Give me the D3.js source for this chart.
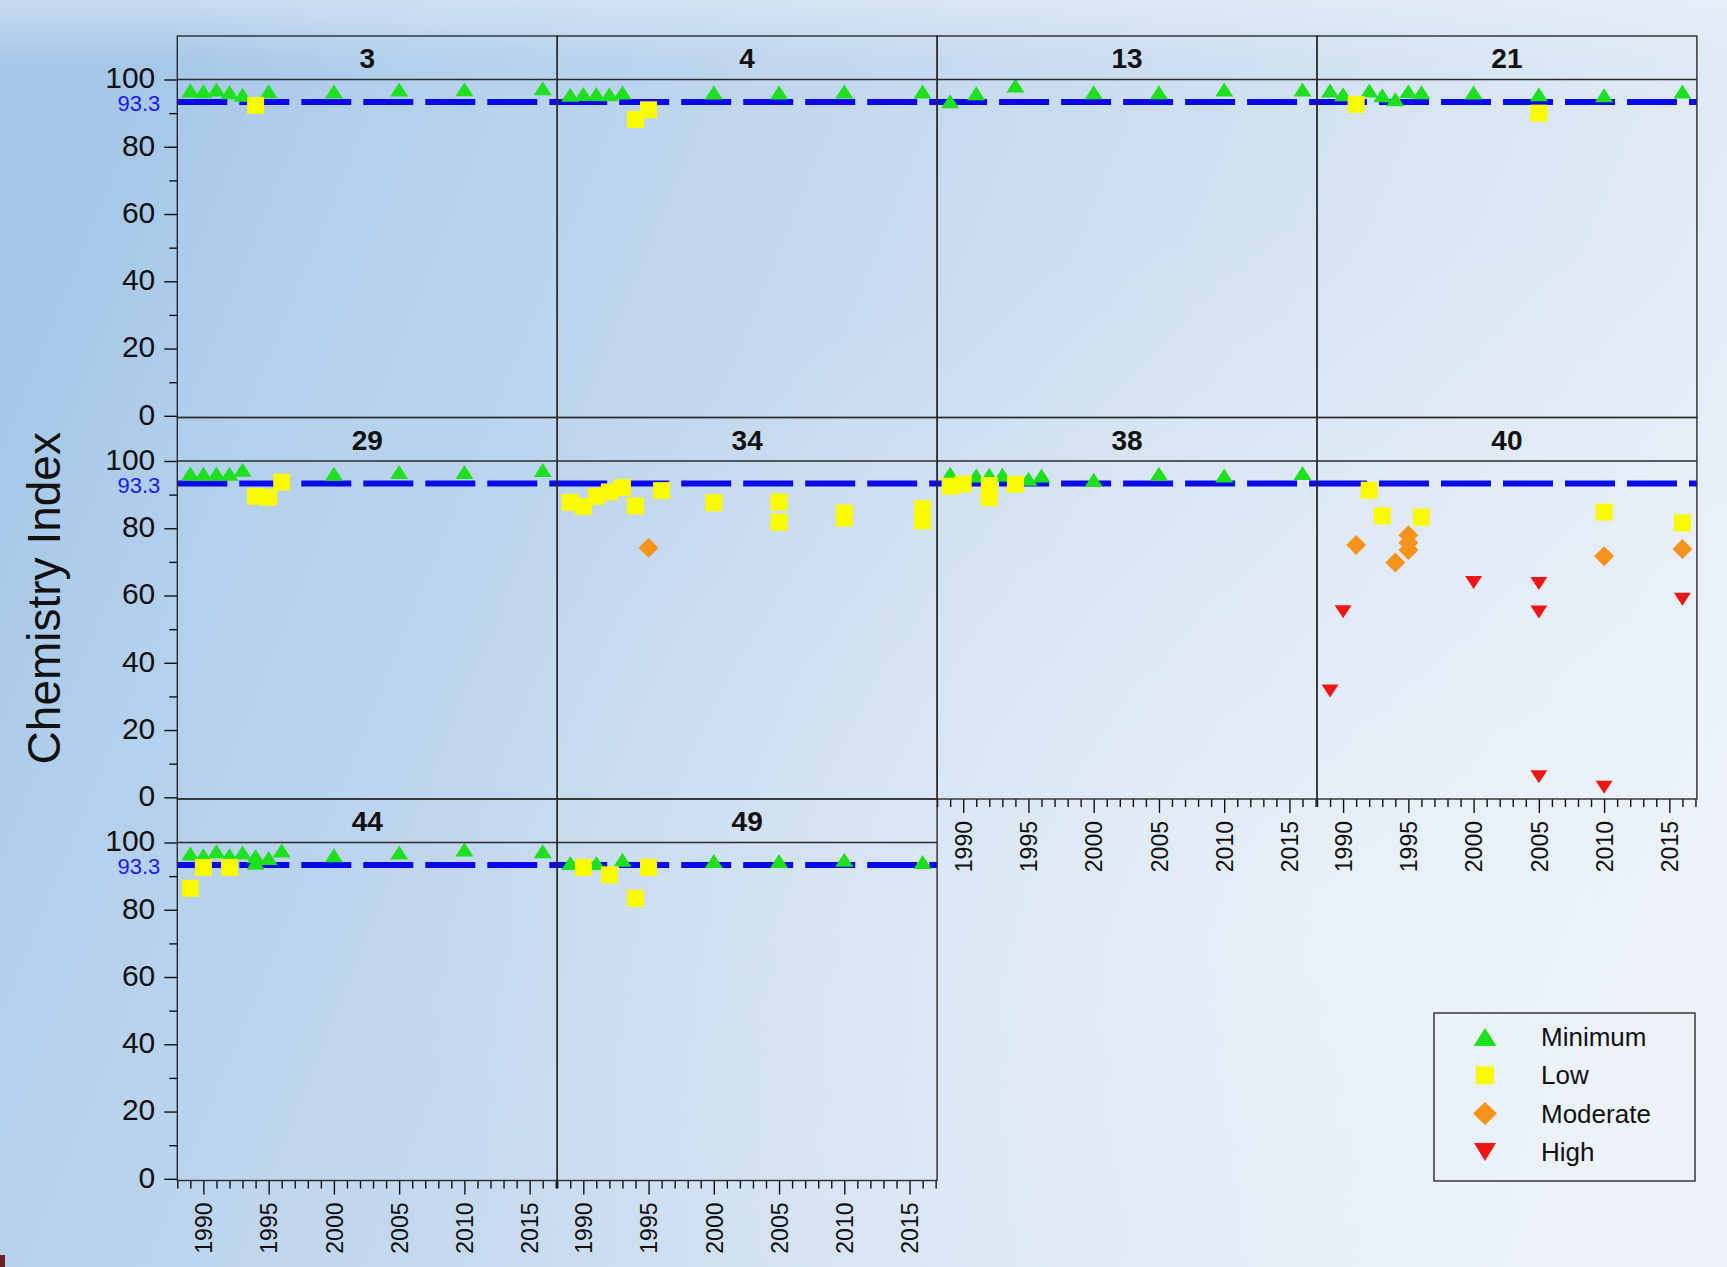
<!DOCTYPE html>
<html>
<head>
<meta charset="utf-8">
<script src="https://cdn.jsdelivr.net/npm/d3@7"></script>
<style>
  html, body { margin: 0; padding: 0; overflow: hidden; background: #ffffff; }
  svg { display: block; }
  text { font-family: Arial, "Liberation Sans", Helvetica, sans-serif; }
</style>
</head>
<body>
<svg id="chart" width="1727" height="1267"></svg>
<script>
// ---- data -------------------------------------------------------------
const panelIds = ["3", "4", "13", "21", "29", "34", "38", "40", "44", "49"];
const categories = ["Minimum", "Low", "Moderate", "High"];
const benchmark = 93.3;
const yTickValues = [0, 20, 40, 60, 80, 100];
const yMinorTicks = [10, 30, 50, 70, 90];
const xTickYears = [1990, 1995, 2000, 2005, 2010, 2015];

// [site, year, chemistry index]
const minimumPoints = [
  ["3", 1989, 96.7], ["3", 1990, 96.5], ["3", 1991, 97.0], ["3", 1992, 96.2], ["3", 1993, 95.5],
  ["3", 1995, 96.5], ["3", 2000, 96.4], ["3", 2005, 97.0], ["3", 2010, 97.1], ["3", 2016, 97.4],
  ["4", 1989, 95.5], ["4", 1990, 95.7], ["4", 1991, 95.7], ["4", 1992, 95.6], ["4", 1993, 96.1],
  ["4", 2000, 96.1], ["4", 2005, 96.1], ["4", 2010, 96.4], ["4", 2016, 96.4],
  ["13", 1989, 93.5], ["13", 1991, 95.9], ["13", 1994, 98.2], ["13", 2000, 96.2], ["13", 2005, 96.2],
  ["13", 2010, 97.0], ["13", 2016, 97.0],
  ["21", 1989, 96.7], ["21", 1990, 95.6], ["21", 1992, 96.7], ["21", 1993, 95.3], ["21", 1994, 94.1],
  ["21", 1995, 96.5], ["21", 1996, 96.2], ["21", 2000, 96.1], ["21", 2005, 95.6], ["21", 2010, 95.3],
  ["21", 2016, 96.4],
  ["29", 1989, 96.3], ["29", 1990, 96.2], ["29", 1991, 96.3], ["29", 1992, 96.2], ["29", 1993, 97.4],
  ["29", 2000, 96.2], ["29", 2005, 96.7], ["29", 2010, 96.7], ["29", 2016, 97.3],
  ["38", 1989, 96.2], ["38", 1991, 95.7], ["38", 1992, 95.9], ["38", 1993, 95.9], ["38", 1995, 94.7],
  ["38", 1996, 95.7], ["38", 2000, 94.4], ["38", 2005, 96.2], ["38", 2010, 95.7], ["38", 2016, 96.4],
  ["44", 1989, 96.7], ["44", 1990, 96.2], ["44", 1991, 97.4], ["44", 1992, 96.2], ["44", 1993, 97.0],
  ["44", 1994, 96.0], ["44", 1994, 94.0], ["44", 1995, 95.4], ["44", 1996, 97.6], ["44", 2000, 96.2],
  ["44", 2005, 97.0], ["44", 2010, 97.9], ["44", 2016, 97.4],
  ["49", 1989, 93.9], ["49", 1991, 93.9], ["49", 1993, 94.9], ["49", 2000, 94.5], ["49", 2005, 94.5],
  ["49", 2010, 94.9], ["49", 2016, 94.2]
];

const lowPoints = [
  ["3", 1994, 92.3],
  ["4", 1994, 88.1], ["4", 1995, 91.0],
  ["21", 1991, 92.6], ["21", 2005, 90.0],
  ["29", 1994, 89.5], ["29", 1995, 89.2], ["29", 1996, 93.7],
  ["34", 1989, 87.7], ["34", 1990, 86.5], ["34", 1991, 89.5], ["34", 1992, 90.8], ["34", 1993, 92.1],
  ["34", 1994, 86.6], ["34", 1996, 91.2], ["34", 2000, 87.6], ["34", 2005, 87.8], ["34", 2005, 81.8],
  ["34", 2010, 84.5], ["34", 2010, 83.0], ["34", 2016, 85.8], ["34", 2016, 82.2],
  ["38", 1989, 92.5], ["38", 1990, 93.2], ["38", 1992, 92.7], ["38", 1992, 89.1], ["38", 1994, 93.1],
  ["40", 1992, 91.3], ["40", 1993, 83.7], ["40", 1996, 83.3], ["40", 2010, 84.8], ["40", 2016, 81.6],
  ["44", 1989, 86.4], ["44", 1990, 92.6], ["44", 1992, 92.6],
  ["49", 1990, 92.6], ["49", 1992, 90.4], ["49", 1994, 83.4], ["49", 1995, 92.6]
];

const moderatePoints = [
  ["34", 1995, 74.2],
  ["40", 1991, 75.0], ["40", 1994, 69.8], ["40", 1995, 77.9], ["40", 1995, 75.7], ["40", 1995, 73.5],
  ["40", 2010, 71.7], ["40", 2016, 73.8]
];

const highPoints = [
  ["40", 1989, 31.6], ["40", 1990, 55.2], ["40", 2000, 63.9], ["40", 2005, 63.6], ["40", 2005, 55.1],
  ["40", 2005, 6.1], ["40", 2010, 3.0], ["40", 2016, 58.9]
];

// ---- layout -----------------------------------------------------------
const W = 1727, H = 1267;
const gridLeft = 177.3, colW = 379.9, nCols = 4;
const gridTop = 36, stripH = 43.5, plotH = 338, rowH = stripH + plotH;
const pxPerYear = 13.05;

const svg = d3.select("#chart");
const defs = svg.append("defs");

// soft blue backdrop, darker toward the left edge
const bg = defs.append("linearGradient").attr("id", "bgGrad")
  .attr("x1", "0").attr("y1", "0.35").attr("x2", "1").attr("y2", "0.65");
[["0%", "#a6c7e8"], ["10%", "#b1cfec"], ["40%", "#c5d9ef"], ["72%", "#d9e6f4"], ["100%", "#ebf1f9"]]
  .forEach(([o, c]) => bg.append("stop").attr("offset", o).attr("stop-color", c));
svg.append("rect").attr("width", W).attr("height", H).attr("fill", "url(#bgGrad)");

const glow = defs.append("radialGradient").attr("id", "glow")
  .attr("cx", "0.78").attr("cy", "0.72").attr("r", "0.55");
glow.append("stop").attr("offset", "0%").attr("stop-color", "#f2f6fb").attr("stop-opacity", 0.5);
glow.append("stop").attr("offset", "100%").attr("stop-color", "#f2f6fb").attr("stop-opacity", 0);
svg.append("rect").attr("width", W).attr("height", H).attr("fill", "url(#glow)");

// lighter band along the top edge
const topBand = defs.append("linearGradient").attr("id", "topBand")
  .attr("x1", "0").attr("y1", "0").attr("x2", "0").attr("y2", "1");
topBand.append("stop").attr("offset", "0%").attr("stop-color", "#eef4fa").attr("stop-opacity", 0.45);
topBand.append("stop").attr("offset", "100%").attr("stop-color", "#eef4fa").attr("stop-opacity", 0);
svg.append("rect").attr("width", W).attr("height", 60).attr("fill", "url(#topBand)");

const x = d3.scaleLinear().domain([1988, 1988 + colW / pxPerYear]).range([0, colW]);
const y = d3.scaleLinear().domain([-0.5, 100]).range([plotH, 0]);

// marker shapes, centred on their bounding box
const shapes = {
  Minimum: (w, h) => `M0,${-h / 2}L${w / 2},${h / 2}L${-w / 2},${h / 2}Z`,
  Low: (w, h) => `M${-w / 2},${-h / 2}h${w}v${h}h${-w}Z`,
  Moderate: (w, h) => `M0,${-h / 2}L${w / 2},0L0,${h / 2}L${-w / 2},0Z`,
  High: (w, h) => `M${-w / 2},${-h / 2}L${w / 2},${-h / 2}L0,${h / 2}Z`
};
const plotSize = { Minimum: [18, 14], Low: [17, 17], Moderate: [20, 20], High: [17, 13] };
const legendSize = { Minimum: [23, 18], Low: [18, 18], Moderate: [24, 23], High: [22, 18] };
const colors = { Minimum: "#1fe01f", Low: "#fbfb00", Moderate: "#f7931b", High: "#ee1515" };
const series = { Minimum: minimumPoints, Low: lowPoints, Moderate: moderatePoints, High: highPoints };

const frameColor = "#2b2b2b";

panelIds.forEach((id, i) => {
  const row = Math.floor(i / nCols), col = i % nCols;
  const g = svg.append("g")
    .attr("transform", `translate(${gridLeft + col * colW},${gridTop + row * rowH})`);

  // header strip with site number
  g.append("text")
    .attr("x", colW / 2).attr("y", stripH / 2 + 1)
    .attr("text-anchor", "middle").attr("dominant-baseline", "central")
    .attr("font-size", 28).attr("font-weight", "bold").attr("fill", "#111")
    .text(id);

  const plot = g.append("g").attr("transform", `translate(0,${stripH})`);

  // benchmark line
  plot.append("line")
    .attr("x1", 0).attr("x2", colW)
    .attr("y1", y(benchmark)).attr("y2", y(benchmark))
    .attr("stroke", "#0a0ae6").attr("stroke-width", 6)
    .attr("stroke-dasharray", "50 12");

  categories.forEach(cat => {
    const pts = series[cat].filter(d => d[0] === id);
    const [w, h] = plotSize[cat];
    plot.selectAll(null).data(pts).enter().append("path")
      .attr("d", shapes[cat](w, h))
      .attr("transform", d => `translate(${x(d[1])},${y(d[2])})`)
      .attr("fill", colors[cat]);
  });

  // frame
  g.append("rect").attr("x", 0).attr("y", 0).attr("width", colW).attr("height", rowH)
    .attr("fill", "none").attr("stroke", frameColor).attr("stroke-width", 1.4);
  g.append("line").attr("x1", 0).attr("x2", colW).attr("y1", stripH).attr("y2", stripH)
    .attr("stroke", frameColor).attr("stroke-width", 1.4);

  // y axis on the first column
  if (col === 0) {
    const yAxis = plot.append("g")
      .call(d3.axisLeft(y).tickValues(yTickValues).tickSize(13).tickPadding(9));
    yAxis.select(".domain").remove();
    yAxis.selectAll("line").attr("stroke", "#111").attr("stroke-width", 1.4);
    yAxis.selectAll("text").attr("font-size", 30).attr("fill", "#111")
      .attr("dy", "0.28em")
      .attr("font-family", "Arial, 'Liberation Sans', sans-serif");
    const yMinor = plot.append("g")
      .call(d3.axisLeft(y).tickValues(yMinorTicks).tickSize(8).tickFormat(""));
    yMinor.select(".domain").remove();
    yMinor.selectAll("line").attr("stroke", "#111").attr("stroke-width", 1.4);

    plot.append("text")
      .attr("x", -17).attr("y", y(benchmark) + 1.5)
      .attr("text-anchor", "end").attr("dominant-baseline", "central")
      .attr("font-size", 22).attr("fill", "#1c1cf0")
      .text(benchmark);
  }

  // x axis under the lowest panel of each column
  if (i + nCols >= panelIds.length) {
    const xAxis = plot.append("g").attr("transform", `translate(0,${plotH})`)
      .call(d3.axisBottom(x).tickValues(xTickYears).tickSize(14).tickFormat(d3.format("d")));
    xAxis.select(".domain").remove();
    xAxis.selectAll("line").attr("stroke", "#111").attr("stroke-width", 1.4);
    xAxis.selectAll("text")
      .attr("font-size", 23).attr("fill", "#111")
      .attr("font-family", "Arial, 'Liberation Sans', sans-serif")
      .attr("text-anchor", "end")
      .attr("transform", "rotate(-90)")
      .attr("x", -22).attr("y", 0).attr("dy", "0.36em");
    const minorYears = d3.range(1988, 2018).filter(v => !xTickYears.includes(v));
    const xMinor = plot.append("g").attr("transform", `translate(0,${plotH})`)
      .call(d3.axisBottom(x).tickValues(minorYears).tickSize(8).tickFormat(""));
    xMinor.select(".domain").remove();
    xMinor.selectAll("line").attr("stroke", "#111").attr("stroke-width", 1.4);
  }
});

// y-axis title
svg.append("text")
  .attr("transform", `translate(44,${gridTop + 1.5 * rowH - 10}) rotate(-90)`)
  .attr("text-anchor", "middle").attr("dominant-baseline", "central")
  .attr("font-size", 46).attr("fill", "#111")
  .text("Chemistry Index");

// legend
const legend = svg.append("g").attr("transform", "translate(1434,1013)");
legend.append("rect").attr("width", 261).attr("height", 168)
  .attr("fill", "none").attr("stroke", frameColor).attr("stroke-width", 1.4);
categories.forEach((cat, k) => {
  const cy = 24 + k * 38.3;
  const [w, h] = legendSize[cat];
  legend.append("path").attr("d", shapes[cat](w, h))
    .attr("transform", `translate(51,${cy})`).attr("fill", colors[cat]);
  legend.append("text").attr("x", 107).attr("y", cy)
    .attr("dominant-baseline", "central").attr("font-size", 26).attr("fill", "#111")
    .text(cat);
});

// small mark at the lower-left edge
svg.append("rect").attr("x", 0).attr("y", 1255).attr("width", 5).attr("height", 12).attr("fill", "#6e1f22");
</script>
</body>
</html>
